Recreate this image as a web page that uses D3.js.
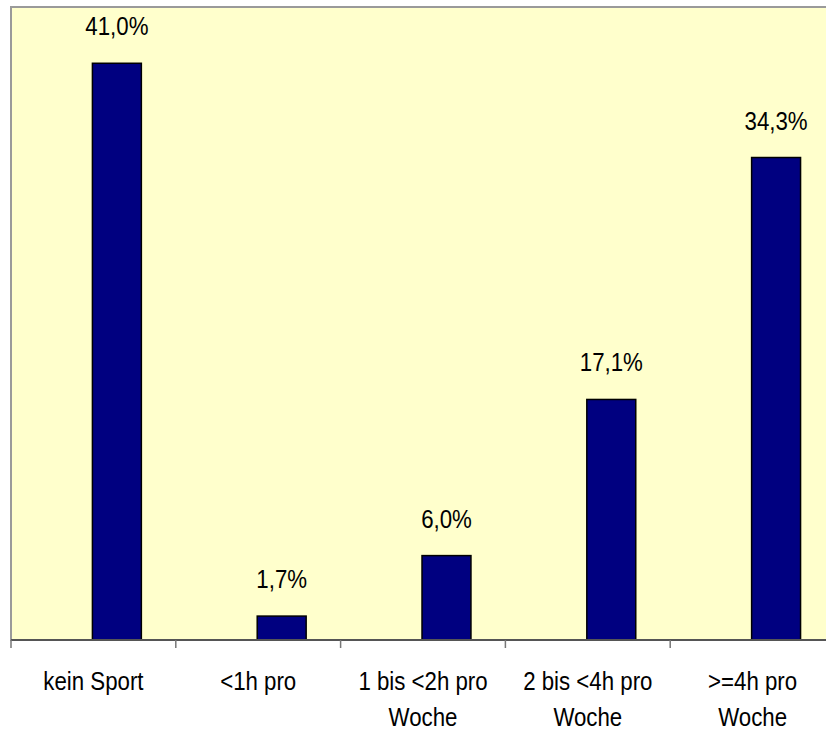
<!DOCTYPE html>
<html>
<head>
<meta charset="utf-8">
<script src="https://cdn.jsdelivr.net/npm/d3@7/dist/d3.min.js"></script>
<style>
  html, body { margin: 0; padding: 0; background: #ffffff; }
  svg { display: block; }
  text { font-family: "Liberation Sans", Arial, sans-serif; fill: #000; }
</style>
</head>
<body>
<svg id="chart" width="826" height="732"></svg>
<script>
// Weekly sport activity, share of respondents (%)
const categories = [
  ["kein Sport"],
  ["<1h pro"],
  ["1 bis <2h pro", "Woche"],
  ["2 bis <4h pro", "Woche"],
  [">=4h pro", "Woche"]
];
const values = [41.0, 1.7, 6.0, 17.1, 34.3];
const valueLabels = ["41,0%", "1,7%", "6,0%", "17,1%", "34,3%"];
const yMax = 45;

const svg = d3.select("#chart");
const plot = { left: 11, top: 7, right: 835, bottom: 640 };
const textScaleX = 0.89;

const x = d3.scaleBand()
  .domain(d3.range(categories.length))
  .range([plot.left, plot.right])
  .paddingInner(0).paddingOuter(0);

const y = d3.scaleLinear()
  .domain([0, yMax])
  .range([plot.bottom, plot.top]);

const bw = x.bandwidth();
const barOffset = bw * 0.494;
const barWidth = bw * 0.297;

// plot background
svg.append("rect")
  .attr("x", plot.left).attr("y", plot.top)
  .attr("width", plot.right - plot.left).attr("height", plot.bottom - plot.top)
  .attr("fill", "#ffffcc")
  .attr("stroke", "#9a9a9a")
  .attr("stroke-width", 2);

// bars
svg.append("g").selectAll("rect")
  .data(values)
  .join("rect")
  .attr("x", (d, i) => x(i) + barOffset)
  .attr("y", d => y(d))
  .attr("width", barWidth)
  .attr("height", d => y(0) - y(d))
  .attr("fill", "#000080")
  .attr("stroke", "#000")
  .attr("stroke-width", 1.5);

// value labels above bars
svg.append("g").selectAll("text")
  .data(values)
  .join("text")
  .attr("transform", (d, i) =>
    `translate(${x(i) + barOffset + barWidth / 2},${y(d) - 28}) scale(${textScaleX},1)`)
  .attr("text-anchor", "middle")
  .attr("font-size", 25)
  .text((d, i) => valueLabels[i]);

// category axis
const axisG = svg.append("g")
  .attr("transform", `translate(0,${plot.bottom})`);
axisG.append("line")
  .attr("x1", plot.left).attr("x2", plot.right)
  .attr("y1", 0).attr("y2", 0)
  .attr("stroke", "#555").attr("stroke-width", 2);
const tickPos = d3.range(categories.length + 1).map(i =>
  i < categories.length ? x(i) : x(i - 1) + bw);
axisG.selectAll("line.tick")
  .data(tickPos)
  .join("line")
  .attr("class", "tick")
  .attr("x1", d => d).attr("x2", d => d)
  .attr("y1", 0).attr("y2", 8)
  .attr("stroke", "#777").attr("stroke-width", 1.5);

// category labels
const labelG = svg.append("g").selectAll("text")
  .data(categories)
  .join("text")
  .attr("transform", (d, i) =>
    `translate(${x(i) + bw / 2},${plot.bottom + 50}) scale(${textScaleX},1)`)
  .attr("text-anchor", "middle")
  .attr("font-size", 25);
labelG.selectAll("tspan")
  .data(d => d)
  .join("tspan")
  .attr("x", 0)
  .attr("dy", (d, j) => j === 0 ? 0 : 36)
  .text(d => d);
</script>
</body>
</html>
